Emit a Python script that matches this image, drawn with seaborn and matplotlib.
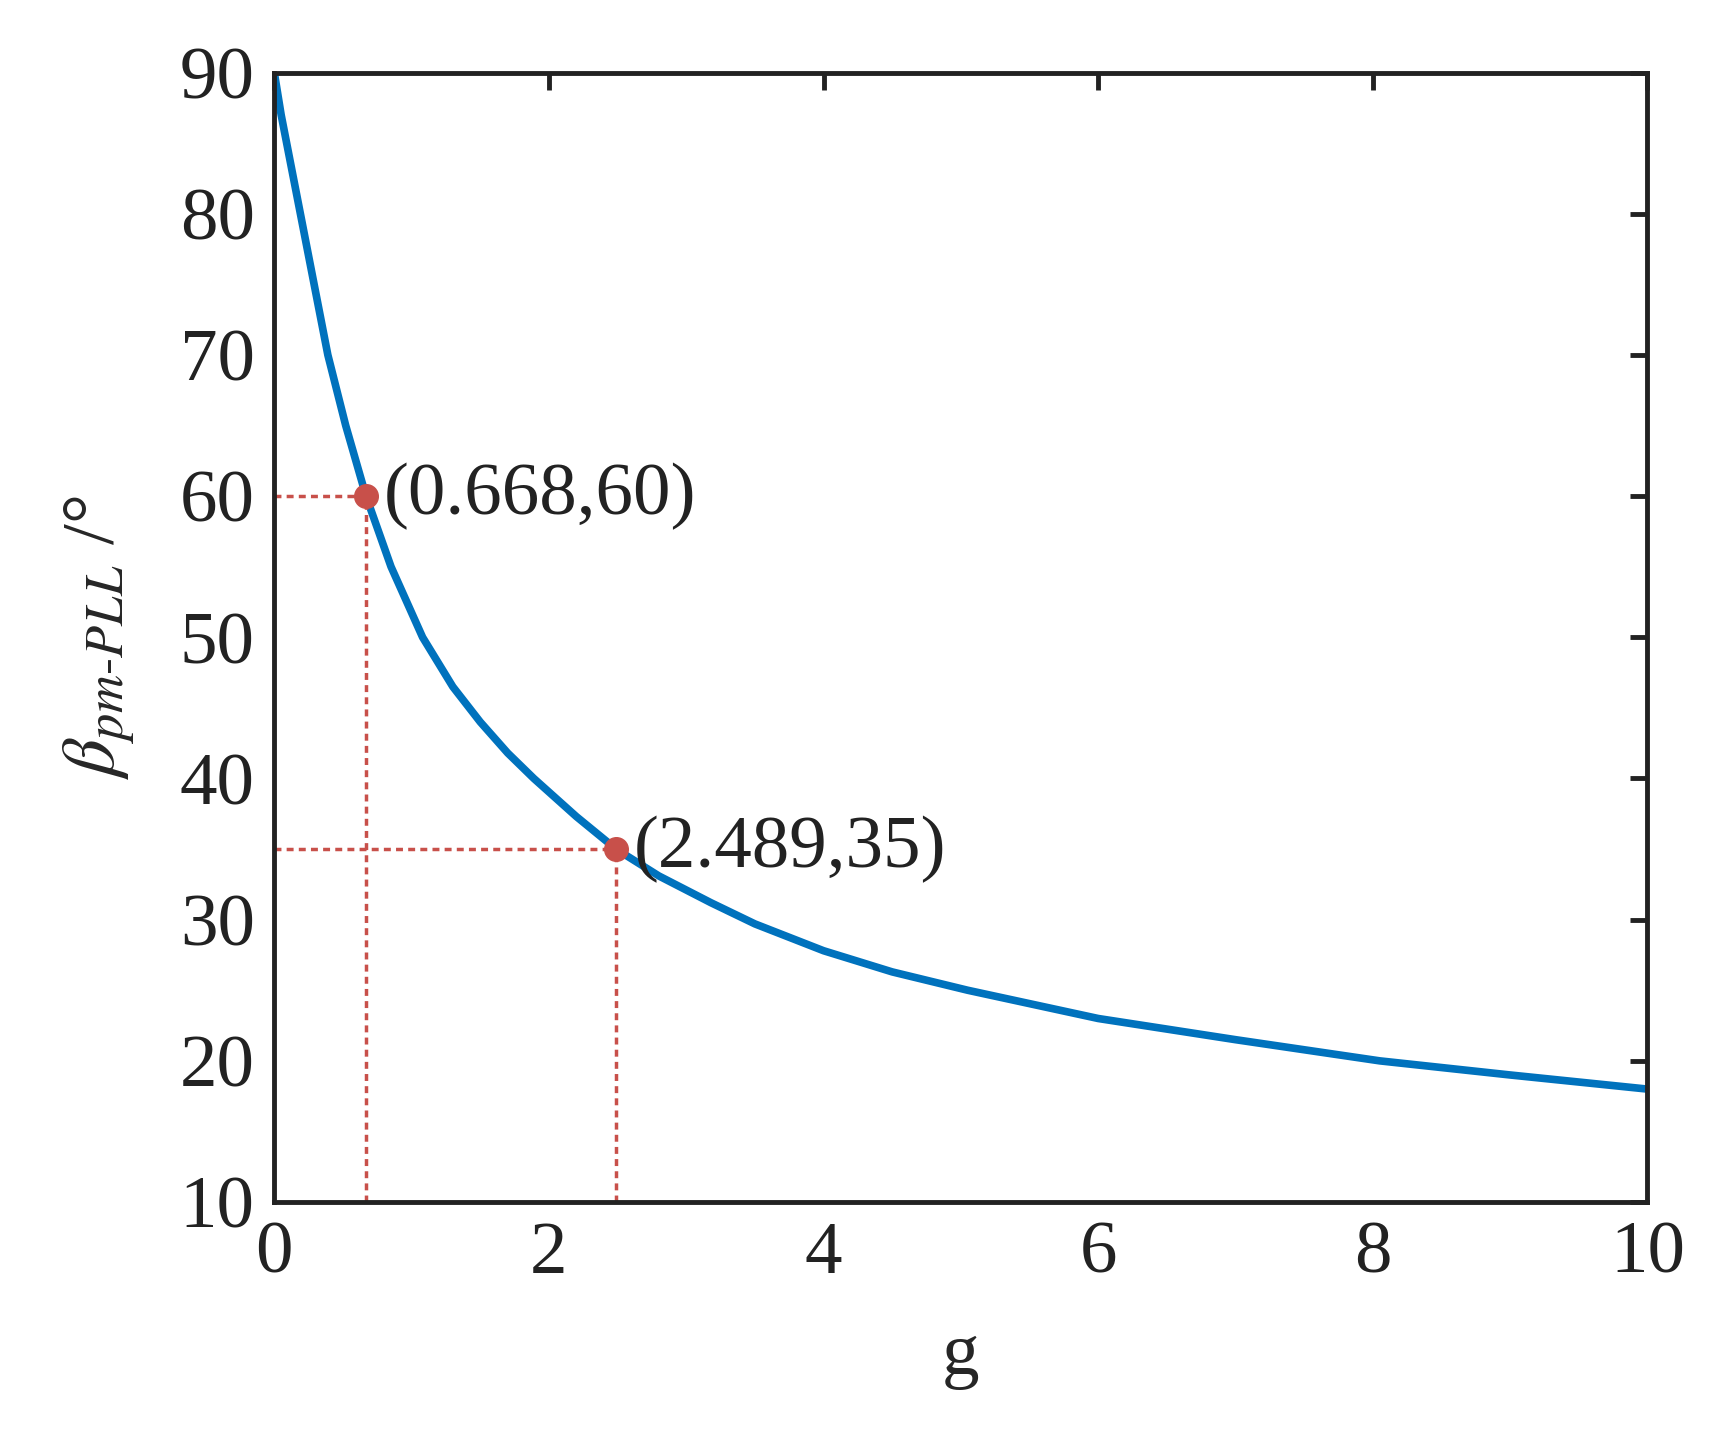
import numpy as np
import pandas as pd
import matplotlib
matplotlib.use('Agg')
import matplotlib.pyplot as plt
import seaborn as sns

# values
g_vals = [0, 0.05, 0.1, 0.19, 0.29, 0.39, 0.52, 0.668, 0.85, 1.08, 1.3, 1.5, 1.7, 1.89,
          2.2, 2.489, 2.8, 3.18, 3.5, 4, 4.5, 5.05, 6, 7, 8.05, 9, 10]
beta_vals = [90, 87, 84.5, 80, 75, 70, 65, 60, 55, 50, 46.5, 44, 41.8, 40,
             37.3, 35, 33.1, 31.2, 29.7, 27.8, 26.3, 25, 23, 21.5, 20, 19, 18]
mark_g = [0.668, 2.489]
mark_beta = [60, 35]
mark_labels = ['(0.668,60)', '(2.489,35)']

sns.set_theme(style='white')
plt.rcParams['font.family'] = 'serif'
plt.rcParams['font.serif'] = ['Liberation Serif', 'DejaVu Serif']
plt.rcParams['mathtext.fontset'] = 'stix'

df = pd.DataFrame({'g': g_vals, 'beta': beta_vals})

fig = plt.figure(figsize=(17.36, 14.5), dpi=100)
ax = fig.add_axes([0.158, 0.171, 0.791, 0.779])
sns.lineplot(data=df, x='g', y='beta', ax=ax, color='#0072BD', lw=5.5)

red = '#C8504A'
for gx, by, lab in zip(mark_g, mark_beta, mark_labels):
    ax.plot([0, gx], [by, by], ls=(0, (2, 1.5)), color=red, lw=2.5)
    ax.plot([gx, gx], [10, by], ls=(0, (2, 1.5)), color=red, lw=2.5)
    ax.plot(gx, by, 'o', color=red, ms=17, zorder=5)
    ax.text(gx + 0.13, by, lab, fontsize=54, va='center', ha='left', color='#222222')

ax.set_xlim(0, 10)
ax.set_ylim(10, 90)
ax.set_xticks(range(0, 11, 2))
ax.set_yticks(range(10, 91, 10))
ax.tick_params(direction='in', length=12, width=3.5, labelsize=54, top=True, right=True,
               pad=14, colors='#222222')
for s in ax.spines.values():
    s.set_linewidth(3.5)
    s.set_color('#222222')
ax.set_xlabel('g', fontsize=54, labelpad=24)
ax.set_ylabel(r'$\beta_{pm\text{-}PLL}$ /°', fontsize=54, labelpad=30)
fig.savefig('out.png', dpi=100)
